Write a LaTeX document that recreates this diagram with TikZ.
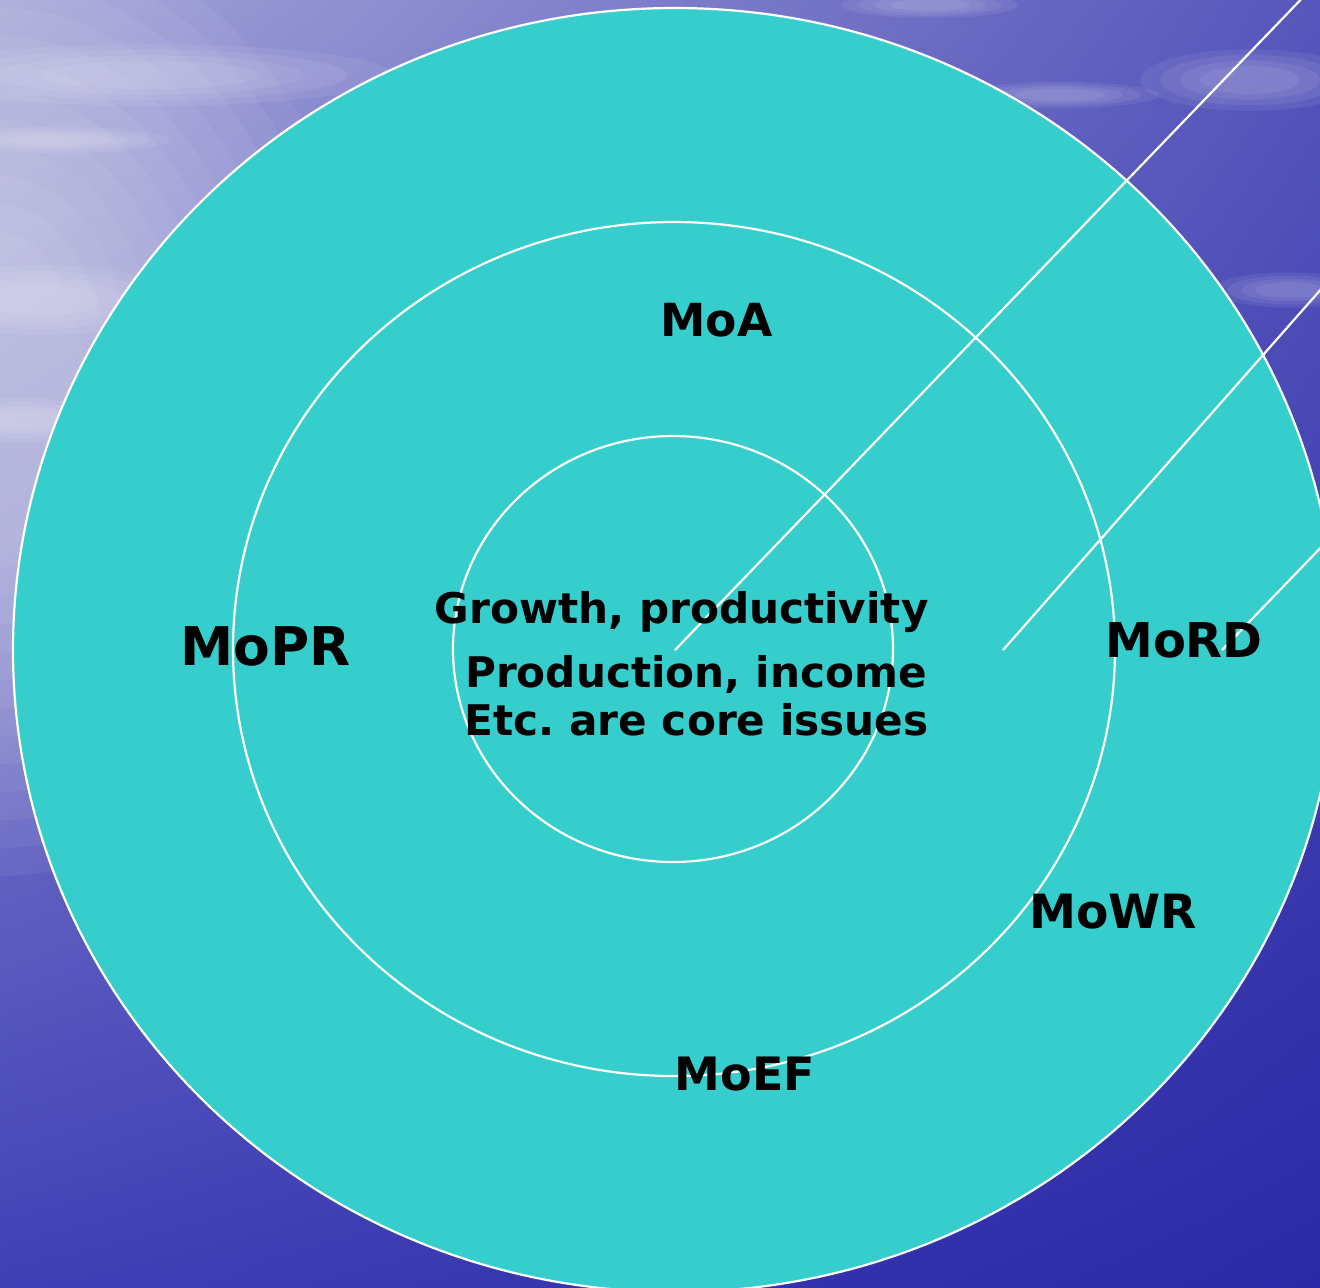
\documentclass[tikz,border=0pt]{standalone}
\usepackage{fontspec}
\setmainfont{DejaVu Sans}
\usetikzlibrary{shadings}
\definecolor{ringfill}{HTML}{36CDCD}
\definecolor{bgUL}{HTML}{A4A4D8}
\definecolor{bgUR}{HTML}{5656BC}
\definecolor{bgLL}{HTML}{4040B6}
\definecolor{bgLR}{HTML}{2A28A6}
\tikzset{
  ring/.style={fill=ringfill, draw=white, line width=1.1pt},
  spoke/.style={draw=white, line width=1.1pt},
  lbl/.style={inner sep=0pt, font=\bfseries, text=black, anchor=base},
  core/.style={inner sep=0pt, text=black, anchor=base east},
  glow/.style={fill=white, opacity=0.05},
  cloud/.style={fill=white, opacity=0.07}
}
\newcommand\softcloud[4]{%
  \foreach \k in {1,...,4}{
    \path[cloud] (#1,#2) ellipse [x radius={#3*(1.3-0.2*\k)}, y radius={#4*(1.3-0.2*\k)}];
  }}
\begin{document}
\frenchspacing
\begin{tikzpicture}[x=0.5pt,y=-0.5pt]
\useasboundingbox (0,0) rectangle (1320,1287);
\begin{scope}
\clip (0,0) rectangle (1320,1287);
% background
\shade[upper left=bgUL, upper right=bgUR, lower left=bgLL, lower right=bgLR] (0,0) rectangle (1320,1287);
% left glow
\foreach \r in {1,...,12}{
  \path[glow] (0,400) ellipse [x radius={30pt+\r*13pt}, y radius={70pt+\r*14pt}];
}
% cloud streaks
\softcloud{150}{75}{110pt}{14pt}
\softcloud{60}{140}{50pt}{6pt}
\softcloud{40}{300}{60pt}{16pt}
\softcloud{20}{420}{40pt}{10pt}
\softcloud{1060}{95}{45pt}{6pt}
\softcloud{1250}{80}{50pt}{14pt}
\softcloud{1290}{290}{35pt}{8pt}
\softcloud{930}{5}{40pt}{6pt}
% rings
\path[ring] (675,650) ellipse [x radius=331pt, y radius=321pt];
\path[ring] (674,649) ellipse [x radius=220.5pt, y radius=213.5pt];
\path[ring] (673,649) ellipse [x radius=110pt, y radius=106.5pt];
% spokes
\coordinate (s1a) at (675,650);
\coordinate (s1b) at (1310,-10);
\coordinate (s2a) at (1003,650);
\coordinate (s2b) at (1330,279);
\coordinate (s3a) at (1222,650);
\coordinate (s3b) at (1330,538);
\draw[spoke] (s1a) -- (s1b);
\draw[spoke] (s2a) -- (s2b);
\draw[spoke] (s3a) -- (s3b);
\end{scope}
% labels
\node[lbl, font=\bfseries\fontsize{22.8pt}{27pt}\selectfont] (moa) at (716.5,336) {MoA};
\node[lbl, font=\bfseries\fontsize{26.7pt}{31pt}\selectfont] (mopr) at (265.5,665) {MoPR};
\node[lbl, font=\bfseries\fontsize{24pt}{28pt}\selectfont] (mord) at (1184,657) {MoRD};
\node[lbl, font=\bfseries\fontsize{23.6pt}{28pt}\selectfont] (mowr) at (1113,928) {MoWR};
\node[lbl, font=\bfseries\fontsize{23pt}{28pt}\selectfont] (moef) at (745,1090) {MoEF};
\node[core, font=\bfseries\fontsize{21.1pt}{26pt}\selectfont] (c1) at (929,623) {Growth, productivity};
\node[core, font=\bfseries\fontsize{21.1pt}{26pt}\selectfont] (c2) at (927,687) {Production, income};
\node[core, font=\bfseries\fontsize{21.1pt}{26pt}\selectfont] (c3) at (929,735) {Etc. are core issues};
\end{tikzpicture}
\end{document}
